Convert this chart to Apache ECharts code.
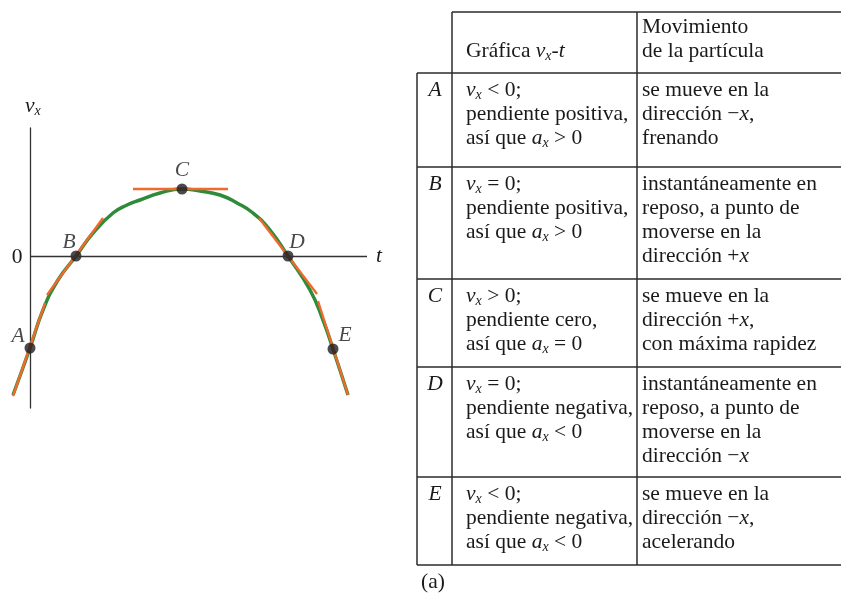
<!DOCTYPE html>
<html>
<head>
<meta charset="utf-8">
<script src="https://cdn.jsdelivr.net/npm/echarts@6/dist/echarts.min.js"></script>
<style>
  html, body { margin: 0; padding: 0; background: #ffffff; }
  #chart { width: 841px; height: 593px; }
</style>
</head>
<body>
<div id="chart"></div>
<script>
// ---- v_x–t curve samples ----
const curveT = [-1.7, 0, 1.3, 2.8, 4.6, 6.3, 8.3, 9.7, 11.0, 13.0, 15.2, 17.0, 19.0, 20.7, 22.3, 24.0, 25.8, 28.0, 29.3, 30.3, 31.8];
const curveV = [-13.9, -9.2, -5.4, -2.4, 0, 2.3, 4.3, 5.1, 5.6, 6.3, 6.7, 6.5, 6.1, 5.3, 4.3, 2.6, 0, -3.4, -6.4, -9.3, -13.9];

// ---- marked instants ----
const pointNames = ['A', 'B', 'C', 'D', 'E'];
const pointT = [0, 4.6, 15.2, 25.8, 30.3];
const pointV = [-9.2, 0, 6.7, 0, -9.3];

// ---- tangent segments (start and end of each) ----
const tangentT = [[-1.7, 1.5], [1.7, 7.3], [10.3, 19.8], [22.9, 28.7], [28.8, 31.8]];
const tangentV = [[-14.0, -4.7], [-3.9, 3.8], [6.7, 6.7], [3.8, -3.8], [-4.5, -13.9]];

// ---- axes ----
const tAxisRange = [0, 33.7];
const xAxisName = 't';
const originLabel = '0';

// ---- table contents ----
const headerGraph = ['Gráfica {i|v}{s|x}-{i|t}'];
const headerMotion = ['Movimiento', 'de la partícula'];
const rowLetters = ['A', 'B', 'C', 'D', 'E'];
const rowGraph = [
  ['{i|v}{s|x} < 0;', 'pendiente positiva,', 'así que {i|a}{s|x} > 0'],
  ['{i|v}{s|x} = 0;', 'pendiente positiva,', 'así que {i|a}{s|x} > 0'],
  ['{i|v}{s|x} > 0;', 'pendiente cero,', 'así que {i|a}{s|x} = 0'],
  ['{i|v}{s|x} = 0;', 'pendiente negativa,', 'así que {i|a}{s|x} < 0'],
  ['{i|v}{s|x} < 0;', 'pendiente negativa,', 'así que {i|a}{s|x} < 0']
];
const rowMotion = [
  ['se mueve en la', 'dirección −{i|x},', 'frenando'],
  ['instantáneamente en', 'reposo, a punto de', 'moverse en la', 'dirección +{i|x}'],
  ['se mueve en la', 'dirección +{i|x},', 'con máxima rapidez'],
  ['instantáneamente en', 'reposo, a punto de', 'moverse en la', 'dirección −{i|x}'],
  ['se mueve en la', 'dirección −{i|x},', 'acelerando']
];
const caption = '(a)';

// ---- layout & style ----
const SERIF = "'Liberation Serif', 'DejaVu Serif', serif";
const INK = '#1a1a1a';
const RULE = '#2b2b2b';
const AXIS = '#333333';
const FS = 21.5;
const labelOffsets = [[-12, -12], [-7, -14], [0, -19], [9, -14], [12, -14]];

const richStyles = {
  i: { fontFamily: SERIF, fontStyle: 'italic', fontSize: FS, lineHeight: 24, fill: INK, color: INK },
  s: { fontFamily: SERIF, fontStyle: 'italic', fontSize: 14, lineHeight: 10, verticalAlign: 'bottom', fill: INK, color: INK }
};

// table geometry
const tableLeft = 417, letterRight = 452, colSplit = 637, tableRight = 841;
const tableTop = 12;
const rowTops = [73, 167, 279, 367, 477];
const tableBottom = 565;
const lineStep = 24, firstLine = 17.5;
const headerY = [27, 51];
const graphX = 466, motionX = 642, letterX = 435;

function textEl(str, x, y) {
  return {
    type: 'text',
    x: x,
    y: y,
    silent: true,
    style: {
      text: str,
      fontFamily: SERIF,
      fontSize: FS,
      fill: INK,
      lineHeight: 24,
      verticalAlign: 'middle',
      align: 'left',
      rich: richStyles
    }
  };
}
function ruleEl(x1, y1, x2, y2) {
  return { type: 'line', silent: true, shape: { x1: x1, y1: y1, x2: x2, y2: y2 },
           style: { stroke: RULE, lineWidth: 1.5 } };
}

const graphics = [];
// rules
graphics.push(ruleEl(letterRight, tableTop, tableRight, tableTop));
rowTops.concat([tableBottom]).forEach(function (y) {
  graphics.push(ruleEl(tableLeft, y, tableRight, y));
});
graphics.push(ruleEl(tableLeft, rowTops[0], tableLeft, tableBottom));
graphics.push(ruleEl(letterRight, tableTop, letterRight, tableBottom));
graphics.push(ruleEl(colSplit, tableTop, colSplit, tableBottom));
// header
headerGraph.forEach(function (s) { graphics.push(textEl(s, graphX, headerY[1])); });
headerMotion.forEach(function (s, i) { graphics.push(textEl(s, motionX, headerY[i])); });
// rows
rowLetters.forEach(function (letter, r) {
  const y0 = rowTops[r] + firstLine;
  const el = textEl(letter, letterX, y0);
  el.style.align = 'center';
  el.style.fontStyle = 'italic';
  graphics.push(el);
  rowGraph[r].forEach(function (s, i) { graphics.push(textEl(s, graphX, y0 + i * lineStep)); });
  rowMotion[r].forEach(function (s, i) { graphics.push(textEl(s, motionX, y0 + i * lineStep)); });
});
// caption
(function () {
  const el = textEl(caption, 433, 582);
  el.style.align = 'center';
  graphics.push(el);
})();
// origin label beside the v_x axis
(function () {
  const el = textEl(originLabel, 17, 257);
  el.style.align = 'center';
  graphics.push(el);
})();

// series
const curveData = curveT.map(function (t, i) { return [t, curveV[i]]; });
const series = [{
  type: 'line',
  name: 'curve',
  data: curveData,
  smooth: 0.5,
  showSymbol: false,
  silent: true,
  z: 2,
  lineStyle: { color: '#2f8a3a', width: 3.5 },
  // horizontal t axis, drawn from the v_x axis to the right
  markLine: {
    silent: true,
    symbol: ['none', 'none'],
    label: { show: false },
    lineStyle: { color: AXIS, width: 1.3, type: 'solid' },
    data: [[{ coord: [tAxisRange[0], 0] }, { coord: [tAxisRange[1], 0] }]]
  }
}];
tangentT.forEach(function (ts, k) {
  series.push({
    type: 'line',
    name: 'tangent ' + pointNames[k],
    data: [[ts[0], tangentV[k][0]], [ts[1], tangentV[k][1]]],
    showSymbol: false,
    silent: true,
    z: 3,
    lineStyle: { color: '#ee6b2d', width: 2.4 }
  });
});
series.push({
  type: 'scatter',
  name: 'points',
  z: 4,
  silent: true,
  symbolSize: 11,
  itemStyle: { color: '#1c1c22' },
  data: pointNames.map(function (n, i) {
    return {
      name: n,
      value: [pointT[i], pointV[i]],
      label: { offset: labelOffsets[i] }
    };
  }),
  label: {
    show: true,
    position: 'inside',
    formatter: '{b}',
    fontFamily: SERIF,
    fontStyle: 'italic',
    fontSize: FS,
    color: INK
  }
});

const chart = echarts.init(document.getElementById('chart'), null, { renderer: 'canvas' });
chart.setOption({
  backgroundColor: '#ffffff',
  animation: false,
  textStyle: { fontFamily: SERIF },
  grid: { left: 0, top: 128, width: 367, height: 280, containLabel: false, outerBoundsMode: 'none' },
  xAxis: {
    type: 'value',
    min: -3,
    max: tAxisRange[1],
    name: xAxisName,
    nameLocation: 'end',
    nameGap: 9,
    nameTextStyle: { fontFamily: SERIF, fontStyle: 'italic', fontSize: FS, color: INK, verticalAlign: 'middle' },
    axisLine: { show: false },
    axisTick: { show: false },
    axisLabel: { show: false },
    splitLine: { show: false }
  },
  yAxis: {
    type: 'value',
    min: -15.2,
    max: 12.8,
    name: '{v|v}{x|x}',
    nameLocation: 'end',
    nameGap: 10,
    nameTextStyle: {
      align: 'left',
      padding: [0, 0, 0, -5],
      rich: {
        v: { fontFamily: SERIF, fontStyle: 'italic', fontSize: FS, color: INK, lineHeight: 24 },
        x: { fontFamily: SERIF, fontStyle: 'italic', fontSize: 14, color: INK, lineHeight: 10, verticalAlign: 'bottom' }
      }
    },
    axisLine: { show: true, onZero: true, lineStyle: { color: AXIS, width: 1.3 } },
    axisTick: { show: false },
    axisLabel: { show: false },
    splitLine: { show: false }
  },
  graphic: { elements: graphics },
  series: series
});
</script>
</body>
</html>
